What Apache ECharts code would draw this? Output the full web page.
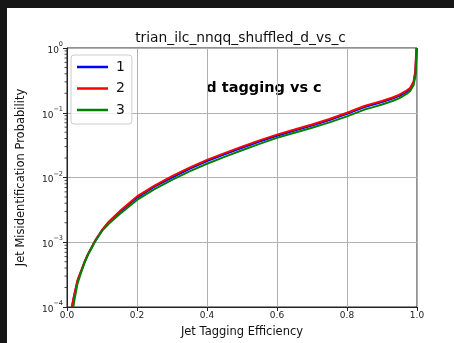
<!DOCTYPE html>
<html>
<head>
<meta charset="utf-8">
<script src="https://cdn.jsdelivr.net/npm/echarts@6/dist/echarts.min.js"></script>
<style>
  html, body { margin: 0; padding: 0; background: #161616; width: 454px; height: 343px; overflow: hidden; }
  #chart { position: absolute; left: 7px; top: 8px; width: 447px; height: 335px; }
</style>
</head>
<body>
<div id="chart"></div>
<script>
// ---- data ----
const seriesNames = ['1', '2', '3'];
const eff1 = [0.014,0.02,0.03,0.04,0.05,0.06,0.08,0.10,0.12,0.15,0.20,0.25,0.30,0.35,0.40,0.45,0.50,0.55,0.60,0.65,0.70,0.75,0.80,0.85,0.87,0.90,0.93,0.95,0.97,0.98,0.99,0.995,0.999];
const mis1 = [1.0e-4,1.45e-4,2.5e-4,3.5e-4,4.9e-4,6.5e-4,1.04e-3,1.52e-3,2.05e-3,2.9e-3,4.9e-3,7.2e-3,1.0e-2,1.36e-2,1.79e-2,2.28e-2,2.88e-2,3.6e-2,4.42e-2,5.3e-2,6.35e-2,7.7e-2,9.6e-2,0.122,0.131,0.146,0.165,0.182,0.21,0.23,0.29,0.41,1.0];
const eff2 = [0.014,0.02,0.03,0.04,0.05,0.06,0.08,0.10,0.12,0.15,0.20,0.25,0.30,0.35,0.40,0.45,0.50,0.55,0.60,0.65,0.70,0.75,0.80,0.85,0.87,0.90,0.93,0.95,0.97,0.98,0.99,0.995,0.998];
const mis2 = [1.0e-4,1.5e-4,2.6e-4,3.6e-4,5.0e-4,6.6e-4,1.05e-3,1.55e-3,2.1e-3,3.0e-3,5.1e-3,7.5e-3,1.05e-2,1.42e-2,1.87e-2,2.38e-2,3.0e-2,3.75e-2,4.6e-2,5.5e-2,6.6e-2,8.0e-2,0.1,0.127,0.137,0.152,0.172,0.19,0.22,0.24,0.30,0.43,1.0];
const eff3 = [0.018,0.022,0.03,0.04,0.05,0.06,0.08,0.10,0.12,0.15,0.20,0.25,0.30,0.35,0.40,0.45,0.50,0.55,0.60,0.65,0.70,0.75,0.80,0.85,0.87,0.90,0.93,0.95,0.97,0.98,0.99,0.996,1.0];
const mis3 = [1.0e-4,1.35e-4,2.3e-4,3.4e-4,4.8e-4,6.4e-4,1.02e-3,1.5e-3,1.95e-3,2.7e-3,4.5e-3,6.6e-3,9.2e-3,1.24e-2,1.63e-2,2.08e-2,2.63e-2,3.3e-2,4.1e-2,4.9e-2,5.85e-2,7.1e-2,8.8e-2,0.112,0.12,0.134,0.152,0.168,0.195,0.215,0.265,0.38,1.0];
const xTicks = [0.0, 0.2, 0.4, 0.6, 0.8, 1.0];
const yDecades = [1e-4, 1e-3, 1e-2, 1e-1, 1];
const minorMultipliers = [2,3,4,5,6,7,8,9];
const titleText = 'trian_ilc_nnqq_shuffled_d_vs_c';
const annotationText = 'd tagging vs c';
const xName = 'Jet Tagging Efficiency';
const yName = 'Jet Misidentification Probability';
const colors = ['#0000ff', '#ff0000', '#008000'];

// ---- build ----
const minorTicks = [];
for (let i = 0; i < yDecades.length - 1; i++) {
  for (const m of minorMultipliers) minorTicks.push([0, yDecades[i] * m]);
}
function pairs(xs, ys) { return xs.map((x, i) => [x, ys[i]]); }
const FONT = 'DejaVu Sans';
const chart = echarts.init(document.getElementById('chart'), null, { renderer: 'canvas' });
const option = {
  backgroundColor: '#ffffff',
  animation: false,
  textStyle: { fontFamily: FONT },
  grid: { left: 57, top: 40, right: 37, bottom: 35, show: true, borderColor: '#222', borderWidth: 1, backgroundColor: 'transparent' },
  legend: {
    orient: 'vertical', left: 64, top: 47,
    padding: [5, 7, 7, 6], itemGap: 7.5, itemWidth: 31, itemHeight: 2.5,
    icon: 'rect',
    backgroundColor: 'rgba(255,255,255,0.8)', borderColor: '#cccccc', borderWidth: 1, borderRadius: 3,
    textStyle: { fontSize: 14, lineHeight: 14, fontFamily: FONT, color: '#111', padding: [0, 0, 0, 3] },
    data: seriesNames.map((n, i) => ({ name: n, itemStyle: { color: colors[i] } }))
  },
  xAxis: {
    type: 'value', min: 0, max: 1, interval: 0.2,
    name: xName, nameLocation: 'middle', nameGap: 19,
    nameTextStyle: { fontSize: 11.5, color: '#111', fontFamily: FONT },
    axisLine: { show: true, lineStyle: { color: '#222', width: 1 } },
    axisTick: { show: true, length: 4, lineStyle: { color: '#222' } },
    axisLabel: { fontSize: 9, color: '#222', margin: 4, formatter: v => v.toFixed(1) },
    splitLine: { show: true, lineStyle: { color: '#b0b0b0', width: 1 } }
  },
  yAxis: {
    type: 'log', logBase: 10, min: yDecades[0], max: yDecades[yDecades.length - 1],
    name: yName, nameLocation: 'middle', nameGap: 40, nameRotate: 90,
    nameTextStyle: { fontSize: 11.5, color: '#111', fontFamily: FONT },
    axisLine: { show: true, lineStyle: { color: '#222', width: 1 } },
    axisTick: { show: true, length: 4, lineStyle: { color: '#222' } },
    axisLabel: {
      color: '#222', margin: 4,
      formatter: v => '{b|10}{s|' + String(Math.round(Math.log10(v))).replace('-', '\u2212') + '}',
      rich: {
        b: { fontSize: 9, fontFamily: FONT, color: '#222', lineHeight: 14, verticalAlign: 'bottom' },
        s: { fontSize: 6.5, fontFamily: FONT, color: '#222', lineHeight: 14, verticalAlign: 'top' }
      }
    },
    splitLine: { show: true, lineStyle: { color: '#b0b0b0', width: 1 } }
  },
  graphic: [
    { type: 'text', x: 233.5, y: 30, style: { text: titleText, fontSize: 13.8, fontFamily: FONT, fill: '#111', align: 'center', verticalAlign: 'middle' } },
    { type: 'text', x: 257, y: 80, style: { text: annotationText, fontSize: 14.5, fontWeight: 'bold', fontFamily: FONT, fill: '#000', align: 'center', verticalAlign: 'middle' } }
  ],
  series: [
    { name: seriesNames[0], type: 'line', data: pairs(eff1, mis1), symbol: 'none', lineStyle: { color: colors[0], width: 2 }, itemStyle: { color: colors[0] } },
    { name: seriesNames[1], type: 'line', data: pairs(eff2, mis2), symbol: 'none', lineStyle: { color: colors[1], width: 2 }, itemStyle: { color: colors[1] } },
    { name: seriesNames[2], type: 'line', data: pairs(eff3, mis3), symbol: 'none', lineStyle: { color: colors[2], width: 2 }, itemStyle: { color: colors[2] } },
    {
      type: 'custom', silent: true, clip: false, data: minorTicks, z: 5,
      renderItem: function (params, api) {
        const p = api.coord([api.value(0), api.value(1)]);
        return { type: 'line', shape: { x1: p[0] - 2.5, y1: p[1], x2: p[0], y2: p[1] }, style: { stroke: '#222', lineWidth: 0.8 } };
      }
    }
  ]
};
chart.setOption(option);
</script>
</body>
</html>
